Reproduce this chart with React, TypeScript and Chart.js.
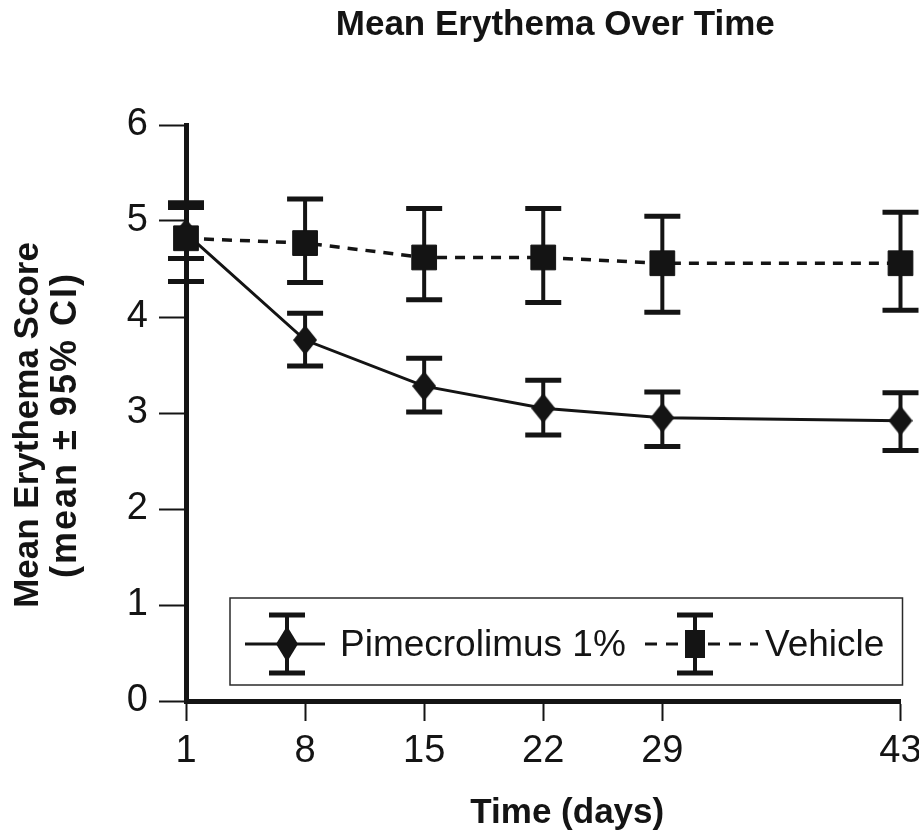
import React, { useEffect, useRef } from "react";
import { Chart, registerables } from "chart.js";

Chart.register(...registerables);

// ---- data ----
const DAYS = [1, 8, 15, 22, 29, 43];
const X_TICKS = [1, 8, 15, 22, 29, 43];
const Y_TICKS = [0, 1, 2, 3, 4, 5, 6];

const PIME_MEAN = [4.87, 3.76, 3.28, 3.05, 2.95, 2.92];
const PIME_LOW = [4.61, 3.49, 3.01, 2.77, 2.65, 2.61];
const PIME_HIGH = [5.14, 4.04, 3.57, 3.34, 3.22, 3.21];

const VEH_MEAN = [4.82, 4.77, 4.62, 4.62, 4.56, 4.56];
const VEH_LOW = [4.37, 4.36, 4.18, 4.15, 4.05, 4.07];
const VEH_HIGH = [5.19, 5.23, 5.13, 5.13, 5.05, 5.09];

const SERIES_LABELS = ["Pimecrolimus 1%", "Vehicle"];
const TITLE = "Mean Erythema Over Time";
const X_TITLE = "Time (days)";
const Y_TITLE = ["Mean Erythema Score", "(mean \u00b1 95% CI)"];

const INK = "#141414";
const FONT = "'Liberation Sans', Arial, Helvetica, sans-serif";

function makeDiamond(w: number, h: number) {
  const c = document.createElement("canvas");
  c.width = w;
  c.height = h;
  const g = c.getContext("2d")!;
  g.fillStyle = INK;
  g.beginPath();
  g.moveTo(w / 2, 0);
  g.lineTo(w, h / 2);
  g.lineTo(w / 2, h);
  g.lineTo(0, h / 2);
  g.closePath();
  g.fill();
  return c;
}

const ERRORS = [
  [PIME_LOW, PIME_HIGH],
  [VEH_LOW, VEH_HIGH],
];

function drawErrorBar(ctx: CanvasRenderingContext2D, px: number, yl: number, yh: number, half: number) {
  ctx.strokeStyle = INK;
  ctx.lineCap = "butt";
  ctx.lineWidth = 4;
  ctx.beginPath();
  ctx.moveTo(px, yh);
  ctx.lineTo(px, yl);
  ctx.stroke();
  ctx.lineWidth = 5;
  ctx.beginPath();
  ctx.moveTo(px - half, yh);
  ctx.lineTo(px + half, yh);
  ctx.moveTo(px - half, yl);
  ctx.lineTo(px + half, yl);
  ctx.stroke();
}

const errorBarPlugin = {
  id: "errorBars",
  beforeDatasetsDraw(chart: any) {
    const { ctx, scales } = chart;
    const x = scales.x;
    const y = scales.y;
    ctx.save();
    ERRORS.forEach(([lo, hi]) => {
      DAYS.forEach((d, j) => {
        const px = x.getPixelForValue(d);
        drawErrorBar(ctx, px, y.getPixelForValue(lo[j]), y.getPixelForValue(hi[j]), 18);
      });
    });
    ctx.restore();
  },
};

const decorPlugin = {
  id: "decor",
  afterDraw(chart: any) {
    const { ctx, chartArea } = chart;
    const ca = chartArea;
    ctx.save();
    ctx.fillStyle = INK;

    // main title
    ctx.font = `bold 35px ${FONT}`;
    ctx.textAlign = "center";
    ctx.textBaseline = "middle";
    ctx.fillText(TITLE, (ca.left + ca.right) / 2 + 12, 25);

    // x title
    ctx.fillText(X_TITLE, (ca.left + ca.right) / 2 + 24, 813);

    // y title
    ctx.save();
    ctx.translate(28, (ca.top + ca.bottom) / 2 + 12);
    ctx.rotate(-Math.PI / 2);
    ctx.fillText(Y_TITLE[0], 0, 0);
    (ctx as any).letterSpacing = "2px";
    ctx.font = `bold 36px ${FONT}`;
    ctx.fillText(Y_TITLE[1], 0, 38);
    (ctx as any).letterSpacing = "0px";
    ctx.restore();

    // legend box
    const L = ca.left + 44;
    const R = ca.right + 2;
    const T = ca.bottom - 103;
    const B = ca.bottom - 16;
    ctx.strokeStyle = "#2a2a2a";
    ctx.lineWidth = 1.5;
    ctx.strokeRect(L, T, R - L, B - T);

    const cy = ca.bottom - 57;
    // pimecrolimus sample
    ctx.strokeStyle = INK;
    ctx.lineWidth = 3;
    ctx.setLineDash([]);
    ctx.beginPath();
    ctx.moveTo(L + 15, cy);
    ctx.lineTo(L + 95, cy);
    ctx.stroke();
    drawErrorBar(ctx, L + 57, cy + 29, cy - 29, 18);
    ctx.beginPath();
    ctx.moveTo(L + 57, cy - 18);
    ctx.lineTo(L + 68, cy);
    ctx.lineTo(L + 57, cy + 18);
    ctx.lineTo(L + 46, cy);
    ctx.closePath();
    ctx.fill();

    ctx.font = `37px ${FONT}`;
    ctx.textAlign = "left";
    ctx.fillText(SERIES_LABELS[0], L + 110, cy + 2);

    // vehicle sample
    ctx.lineWidth = 3;
    ctx.setLineDash([12, 9]);
    ctx.beginPath();
    ctx.moveTo(L + 415, cy);
    ctx.lineTo(L + 528, cy);
    ctx.stroke();
    ctx.setLineDash([]);
    drawErrorBar(ctx, L + 465, cy + 29, cy - 29, 18);
    ctx.fillRect(L + 465 - 10, cy - 14, 20, 28);
    ctx.fillText(SERIES_LABELS[1], L + 535, cy + 2);

    ctx.restore();
  },
};

export default function App() {
  const ref = useRef<HTMLCanvasElement>(null);

  useEffect(() => {
    const canvas = ref.current!;
    const diamond = makeDiamond(24, 30);
    const chart = new Chart(canvas, {
      type: "line",
      data: {
        datasets: [
          {
            label: SERIES_LABELS[0],
            data: DAYS.map((d, i) => ({ x: d, y: PIME_MEAN[i] })),
            borderColor: INK,
            backgroundColor: INK,
            borderWidth: 3,
            pointStyle: diamond as any,
            pointRadius: 15,
            tension: 0,
            clip: false as any,
            order: 1,
          },
          {
            label: SERIES_LABELS[1],
            data: DAYS.map((d, i) => ({ x: d, y: VEH_MEAN[i] })),
            borderColor: INK,
            backgroundColor: INK,
            borderWidth: 3.5,
            borderDash: [10, 8],
            pointStyle: "rect",
            pointRadius: 17.5,
            pointBackgroundColor: INK,
            pointBorderColor: INK,
            pointBorderWidth: 1,
            tension: 0,
            clip: false as any,
            order: 0,
          },
        ],
      },
      options: {
        animation: false,
        responsive: false,
        layout: { padding: { top: 125, right: 16, left: 0, bottom: 0 } },
        plugins: {
          legend: { display: false },
          tooltip: { enabled: false },
          title: { display: false },
        },
        scales: {
          x: {
            type: "linear",
            min: 1,
            max: 43,
            afterBuildTicks: (s: any) => {
              s.ticks = X_TICKS.map((v) => ({ value: v }));
            },
            afterFit: (s: any) => {
              s.height = 134;
              s.paddingLeft = 0;
              s.paddingRight = 0;
            },
            grid: {
              display: true,
              drawOnChartArea: false,
              drawTicks: true,
              tickLength: 20,
              tickWidth: 2,
              tickColor: INK,
            },
            border: { display: true, width: 5, color: INK },
            ticks: {
              font: { family: FONT, size: 38 },
              color: INK,
              padding: 8,
              maxRotation: 0,
              autoSkip: false,
              callback: (v: any) => String(v),
            },
          },
          y: {
            type: "linear",
            min: 0,
            max: 6,
            afterBuildTicks: (s: any) => {
              s.ticks = Y_TICKS.map((v) => ({ value: v }));
            },
            afterFit: (s: any) => {
              s.width = 186;
            },
            grid: {
              display: true,
              drawOnChartArea: false,
              drawTicks: true,
              tickLength: 27,
              tickWidth: 2,
              tickColor: INK,
            },
            border: { display: true, width: 5, color: INK },
            ticks: {
              font: { family: FONT, size: 38 },
              color: INK,
              padding: 11,
              callback: (v: any) => String(v),
            },
          },
        },
      },
      plugins: [errorBarPlugin, decorPlugin],
    });
    return () => chart.destroy();
  }, []);

  return (
    <div style={{ position: "fixed", left: 0, top: 0, width: 919, height: 835, overflow: "hidden", background: "#fff" }}>
      <canvas ref={ref} width={919} height={835} style={{ display: "block" }} />
    </div>
  );
}
